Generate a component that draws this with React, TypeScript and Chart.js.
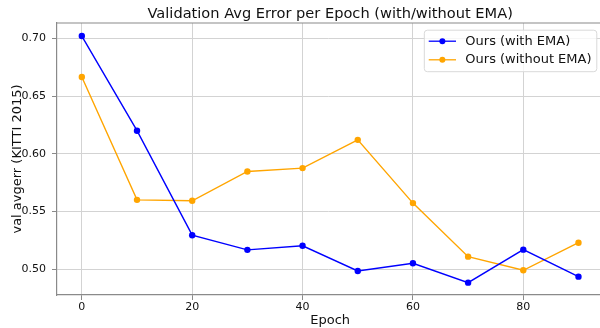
import React, { useEffect, useRef } from "react";
import { Chart, registerables } from "chart.js";

Chart.register(...registerables);

const epochs = [0, 10, 20, 30, 40, 50, 60, 70, 80, 90];
const withEma = [0.702, 0.62, 0.5295, 0.5168, 0.5203, 0.4985, 0.5052, 0.4884, 0.517, 0.4936];
const withoutEma = [0.6665, 0.5601, 0.5593, 0.5847, 0.5876, 0.6121, 0.5573, 0.5109, 0.4991, 0.523];
const xTicks = [0, 20, 40, 60, 80];
const yTicks = [0.5, 0.55, 0.6, 0.65, 0.7];
const seriesLabels = ["Ours (with EMA)", "Ours (without EMA)"];
const seriesColors = ["#0000ff", "#ffa500"];
const titleText = "Validation Avg Error per Epoch (with/without EMA)";
const xTitle = "Epoch";
const yTitle = "val avgerr (KITTI 2015)";

const FONT = "'DejaVu Sans', sans-serif";
const TEXT = "#111111";
const SPINE = "#8a8a8a";
const GRID = "#d3d3d3";

const xMin = -4.5;
const xMax = 93.9;
const xFullMax = 94.5;
const yMin = 0.4777;
const yMax = 0.7133;

const overlay = {
  id: "overlay",
  afterDraw(chart: any) {
    const ctx = chart.ctx;
    const area = chart.chartArea;
    const xs = chart.scales.x;
    const fullRight = xs.getPixelForValue(xFullMax);
    const cx = (area.left + fullRight) / 2;
    ctx.save();
    // top spine
    ctx.strokeStyle = SPINE;
    ctx.lineWidth = 1.2;
    ctx.beginPath();
    ctx.moveTo(area.left, area.top);
    ctx.lineTo(chart.width, area.top);
    ctx.stroke();
    // title
    ctx.fillStyle = TEXT;
    ctx.font = `14.6px ${FONT}`;
    ctx.textAlign = "center";
    ctx.textBaseline = "middle";
    ctx.fillText(titleText, cx, 14.5);
    // x title
    ctx.font = `13px ${FONT}`;
    ctx.fillText(xTitle, cx, 320.5);
    // y title
    ctx.save();
    ctx.translate(17.5, (area.top + area.bottom) / 2);
    ctx.rotate(-Math.PI / 2);
    ctx.fillText(yTitle, 0, 0);
    ctx.restore();
    // legend
    ctx.font = `13px ${FONT}`;
    const tw = Math.max(...seriesLabels.map((l) => ctx.measureText(l).width));
    const boxRight = fullRight - 6.5;
    const boxW = 4.4 + 27.3 + 9.3 + tw + 5.3;
    const boxLeft = boxRight - boxW;
    const boxTop = area.top + 7.2;
    const boxH = 41.5;
    ctx.beginPath();
    const r = 3;
    ctx.moveTo(boxLeft + r, boxTop);
    ctx.lineTo(boxRight - r, boxTop);
    ctx.arcTo(boxRight, boxTop, boxRight, boxTop + r, r);
    ctx.lineTo(boxRight, boxTop + boxH - r);
    ctx.arcTo(boxRight, boxTop + boxH, boxRight - r, boxTop + boxH, r);
    ctx.lineTo(boxLeft + r, boxTop + boxH);
    ctx.arcTo(boxLeft, boxTop + boxH, boxLeft, boxTop + boxH - r, r);
    ctx.lineTo(boxLeft, boxTop + r);
    ctx.arcTo(boxLeft, boxTop, boxLeft + r, boxTop, r);
    ctx.closePath();
    ctx.fillStyle = "rgba(255,255,255,0.8)";
    ctx.fill();
    ctx.strokeStyle = "#d9d9d9";
    ctx.lineWidth = 1;
    ctx.stroke();
    seriesLabels.forEach((label, i) => {
      const y = boxTop + 11 + i * 18.6;
      const lx0 = boxLeft + 4.4;
      const lx1 = lx0 + 27.3;
      ctx.strokeStyle = seriesColors[i];
      ctx.lineWidth = 1.3;
      ctx.beginPath();
      ctx.moveTo(lx0, y);
      ctx.lineTo(lx1, y);
      ctx.stroke();
      ctx.fillStyle = seriesColors[i];
      ctx.beginPath();
      ctx.arc((lx0 + lx1) / 2, y, 3, 0, Math.PI * 2);
      ctx.fill();
      ctx.fillStyle = TEXT;
      ctx.textAlign = "left";
      ctx.textBaseline = "middle";
      ctx.fillText(label, lx1 + 9.3, y);
    });
    ctx.restore();
  },
};

export default function App() {
  const ref = useRef<HTMLCanvasElement | null>(null);
  useEffect(() => {
    if (!ref.current) return;
    const series = [withEma, withoutEma];
    const chart = new Chart(ref.current, {
      type: "line",
      data: {
        datasets: series.map((vals, i) => ({
          label: seriesLabels[i],
          data: epochs.map((e, j) => ({ x: e, y: vals[j] })),
          borderColor: seriesColors[i],
          backgroundColor: seriesColors[i],
          borderWidth: 1.4,
          pointRadius: 3.2,
          pointBorderWidth: 0,
          pointBackgroundColor: seriesColors[i],
          tension: 0,
          fill: false,
        })),
      },
      options: {
        responsive: false,
        animation: false,
        devicePixelRatio: 1,
        layout: { autoPadding: false, padding: { top: 23, left: 0, right: 0, bottom: 0 } },
        plugins: {
          legend: { display: false },
          title: { display: false },
          tooltip: { enabled: false },
        },
        scales: {
          x: {
            type: "linear",
            min: xMin,
            max: xMax,
            afterBuildTicks: (s: any) => {
              s.ticks = xTicks.map((v) => ({ value: v }));
            },
            afterFit: (s: any) => {
              s.height = 33;
            },
            ticks: {
              color: TEXT,
              font: { family: FONT, size: 11 },
              padding: 1,
              maxRotation: 0,
              autoSkip: false,
              callback: (v: any) => String(v),
            },
            grid: { color: GRID, lineWidth: 1, tickLength: 5, tickColor: SPINE },
            border: { color: SPINE, width: 1.2 },
          },
          y: {
            type: "linear",
            min: yMin,
            max: yMax,
            afterBuildTicks: (s: any) => {
              s.ticks = yTicks.map((v) => ({ value: v }));
            },
            afterFit: (s: any) => {
              s.width = 57;
            },
            ticks: {
              color: TEXT,
              font: { family: FONT, size: 11 },
              padding: 6,
              autoSkip: false,
              callback: (v: any) => Number(v).toFixed(2),
            },
            grid: { color: GRID, lineWidth: 1, tickLength: 5, tickColor: SPINE },
            border: { color: SPINE, width: 1.2 },
          },
        },
      },
      plugins: [overlay],
    } as any);
    return () => chart.destroy();
  }, []);
  return (
    <div style={{ position: "absolute", left: 0, top: 0, width: 600, height: 328, background: "#fff" }}>
      <canvas ref={ref} width={600} height={328} style={{ width: 600, height: 328, display: "block" }} />
    </div>
  );
}
